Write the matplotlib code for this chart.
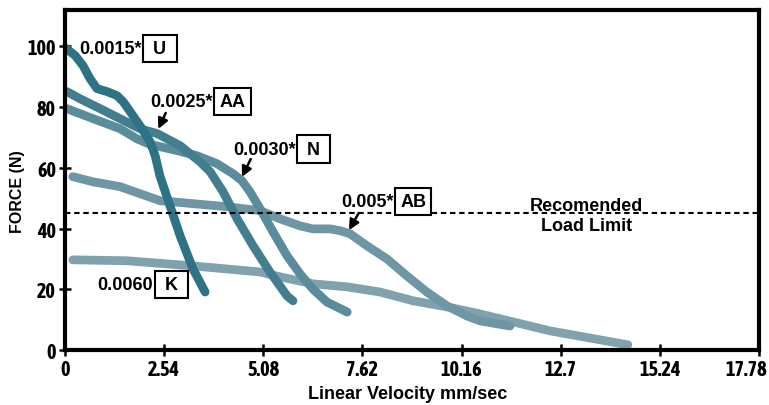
import os
import matplotlib
matplotlib.use("Agg")
import matplotlib.pyplot as plt
from matplotlib import font_manager
from matplotlib.font_manager import FontProperties
from matplotlib.transforms import ScaledTranslation

# ---- data ----
u_x = [0.0, 0.26, 0.46, 0.64, 0.82, 1.08, 1.33, 1.49, 1.67, 1.92, 2.18, 2.31, 2.43, 2.69, 2.95, 3.28, 3.59]
u_y = [99.6, 97.0, 93.7, 89.4, 86.1, 85.1, 83.8, 81.8, 78.5, 73.9, 68.6, 64.0, 57.4, 47.5, 37.6, 26.7, 19.1]

aa_x = [0.05, 0.38, 0.90, 1.41, 1.92, 2.36, 2.95, 3.46, 3.72, 4.05, 4.41, 4.82, 5.25, 5.69, 5.84]
aa_y = [85.1, 82.8, 79.5, 76.2, 72.9, 71.3, 67.3, 62.0, 58.7, 52.1, 43.2, 34.3, 25.7, 17.8, 16.2]

n_x = [0.05, 0.72, 1.41, 1.84, 2.18, 2.43, 2.87, 3.38, 3.89, 4.30, 4.53, 4.74, 5.00, 5.33, 5.69, 6.02, 6.35, 6.71, 7.23]
n_y = [79.5, 76.2, 72.9, 69.6, 67.7, 67.0, 65.7, 64.0, 61.4, 58.1, 55.8, 52.1, 46.5, 38.9, 31.0, 25.1, 20.1, 15.8, 12.5]

ab_x = [0.20, 0.72, 1.41, 1.92, 2.43, 3.28, 4.15, 5.00, 5.51, 6.02, 6.35, 6.79, 7.05, 7.30, 7.74, 8.25,
        8.76, 9.27, 9.79, 10.30, 10.63, 11.40]
ab_y = [57.1, 55.4, 53.8, 51.5, 49.2, 48.2, 47.2, 45.9, 43.2, 40.9, 39.9, 39.9, 39.3, 38.3, 34.3, 30.0,
        24.4, 19.1, 14.5, 11.2, 9.6, 7.9]

k_x = [0.20, 1.59, 3.28, 5.00, 5.51, 6.35, 7.23, 8.07, 8.92, 9.79, 10.63, 12.43, 14.42]
k_y = [29.7, 29.4, 27.7, 25.7, 24.1, 21.8, 20.8, 19.1, 16.2, 14.2, 11.9, 6.3, 1.7]

x_ticks = [0, 2.54, 5.08, 7.62, 10.16, 12.7, 15.24, 17.78]
x_tick_labels = ["0", "2.54", "5.08", "7.62", "10.16", "12.7", "15.24", "17.78"]
y_ticks = [0, 20, 40, 60, 80, 100]
load_limit = 45

labels = [
    # text, box letter, text position, arrow tail, arrow head
    ("0.0015*", " U ", (0.36, 99.3), None, None),
    ("0.0025*", "AA", (2.18, 82.0), (2.61, 78.9), (2.36, 72.0)),
    ("0.0030*", " N ", (4.30, 66.2), (4.79, 63.7), (4.50, 56.2)),
    ("0.005*", "AB", (7.07, 49.0), (7.56, 45.9), (7.24, 38.7)),
    ("0.0060", " K ", (0.82, 21.5), None, None),
]

# ---- condensed bold font for ticks, if one is installed ----
def find_condensed_bold():
    cands = []
    for f in font_manager.fontManager.ttflist:
        base = os.path.basename(f.fname).lower()
        if ("narrow" in base or "condensed" in base) and "bold" in base:
            if any(b in base for b in ("extrabold", "semibold", "semicondensed", "extracondensed",
                                       "italic", "oblique", "black")):
                continue
            if "dejavu" in base:
                continue
            score = 0 if "liberation" in base else (1 if "noto" in base else 2)
            cands.append((score, f.fname))
    cands.sort()
    return cands[0][1] if cands else None

cond = find_condensed_bold()
if cond:
    tick_fp = FontProperties(fname=cond, size=14.5)
else:
    tick_fp = FontProperties(family="Liberation Sans", weight="bold", size=12.5)

fig = plt.figure(figsize=(7.69, 4.06), dpi=100)
ax = fig.add_axes([65 / 769, 55 / 406, 694 / 769, 340 / 406])

lw = 6.3
kw = dict(lw=lw, solid_capstyle="round", solid_joinstyle="round")
ax.plot(k_x, k_y, color="#80a2af", **kw)
ax.plot(ab_x, ab_y, color="#6e96a4", **kw)
ax.plot(n_x, n_y, color="#5b8c9b", **kw)
ax.plot(aa_x, aa_y, color="#427e8e", **kw)
ax.plot(u_x, u_y, color="#2e7385", **kw)

ax.axhline(load_limit, color="black", lw=1.5, linestyle=(0, (2.6, 1.8)))

ax.set_xlim(0, 17.78)
ax.set_ylim(0, 112)
ax.set_xticks(x_ticks)
ax.set_xticklabels(x_tick_labels)
ax.set_yticks(y_ticks)

for s in ax.spines.values():
    s.set_linewidth(3)
ax.tick_params(axis="both", direction="inout", length=9, width=1.8, pad=2)
for t in ax.get_xticklabels() + ax.get_yticklabels():
    t.set_fontproperties(tick_fp)

ax.set_xlabel("Linear Velocity mm/sec", fontfamily="Liberation Sans", fontweight="bold", fontsize=13)
ax.xaxis.set_label_coords(0.493, -0.102)
ax.xaxis.label.set_va("top")
ax.set_ylabel("FORCE (N)", fontfamily="Liberation Sans", fontweight="bold", fontsize=11.5)
ax.yaxis.set_label_coords(-0.058, 0.47)

tfont = dict(fontfamily="Liberation Sans", fontweight="bold", fontsize=13)
for txt, box, (tx, ty), tail, head in labels:
    t = ax.text(tx, ty, txt, ha="left", va="center", **tfont)
    ax.annotate(box, xy=(1, 0.5), xycoords=t, xytext=(5, 0), textcoords="offset points",
                ha="left", va="center",
                bbox=dict(boxstyle="square,pad=0.28", fc="white", ec="black", lw=1.5), **tfont)
    if tail is not None:
        ax.annotate("", xy=head, xytext=tail,
                    arrowprops=dict(arrowstyle="-|>,head_length=0.6,head_width=0.3", color="black", lw=1.8))

ax.text(13.37, 47.5, "Recomended", ha="center", va="center", **tfont)
ax.text(13.37, 40.9, "Load Limit", ha="center", va="center", **tfont)

# keep the last x tick label inside the figure
fig.canvas.draw()
last = ax.get_xticklabels()[-1]
bb = last.get_window_extent()
if bb.x1 > 767:
    last.set_transform(last.get_transform() + ScaledTranslation(-(bb.x1 - 767) / 100, 0, fig.dpi_scale_trans))

fig.savefig("out.png", dpi=100)
